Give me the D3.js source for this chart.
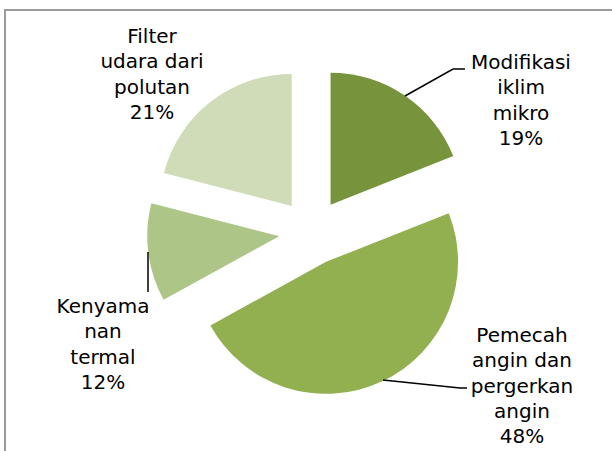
<!DOCTYPE html>
<html><head><meta charset="utf-8">
<script src="https://cdn.jsdelivr.net/npm/d3@7"></script>
<style>html,body{margin:0;padding:0;background:#fff;}svg{display:block;}</style>
</head><body>
<svg id="chart" width="612" height="451"></svg>
<script>
const categories = ["Modifikasi iklim mikro", "Pemecah angin dan pergerkan angin", "Kenyamanan termal", "Filter udara dari polutan"];
const values = [19, 48, 12, 21];
const labelLines = [
  ["Modifikasi", "iklim", "mikro", "19%"],
  ["Pemecah", "angin dan", "pergerkan", "angin", "48%"],
  ["Kenyama", "nan", "termal", "12%"],
  ["Filter", "udara dari", "polutan", "21%"]
];
const colors = ["#77933C", "#92B050", "#ADC687", "#D0DCB8"];

const svg = d3.select("#chart");
svg.append("rect").attr("x", 5).attr("y", 10).attr("width", 640).attr("height", 480)
  .attr("fill", "none").attr("stroke", "#9a9a9a").attr("stroke-width", 2);

const cx = 312, cy = 232, R = 132, explode = 33;
const pie = d3.pie().sort(null).value(d => d)(values);
const arc = d3.arc().innerRadius(0).outerRadius(R);

const g = svg.append("g").attr("transform", `translate(${cx},${cy})`);
pie.forEach((p, i) => {
  const mid = (p.startAngle + p.endAngle) / 2;
  const dx = explode * Math.sin(mid), dy = -explode * Math.cos(mid);
  g.append("path").attr("d", arc(p)).attr("fill", colors[i])
    .attr("transform", `translate(${dx},${dy})`);
});

// leader lines
const leaders = [
  [[405, 96], [453, 69], [465, 69]],
  [[383, 380], [460, 388], [467, 388]],
  [[148, 252], [148, 292]],
  null
];
leaders.forEach(pts => {
  if (!pts) return;
  svg.append("path").attr("d", d3.line()(pts)).attr("fill", "none")
    .attr("stroke", "#000").attr("stroke-width", 1.5);
});

const labelPos = [[521, 69], [522, 342], [103, 313], [152, 43]];
labelLines.forEach((lines, i) => {
  const t = svg.append("text").attr("text-anchor", "middle")
    .attr("font-family", "'DejaVu Sans', sans-serif").attr("font-size", 20).attr("fill", "#000");
  lines.forEach((ln, j) => {
    t.append("tspan").attr("x", labelPos[i][0]).attr("y", labelPos[i][1] + j * 25.3).text(ln);
  });
});
</script>
</body></html>
